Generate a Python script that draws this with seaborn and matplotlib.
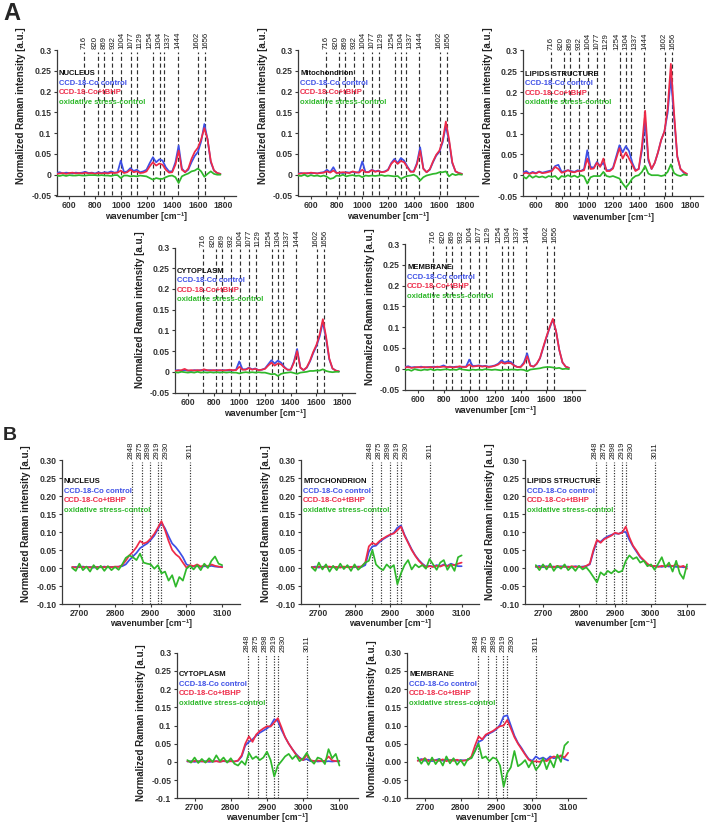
import matplotlib
matplotlib.use("Agg")
import matplotlib.pyplot as plt
import pandas as pd
import seaborn as sns

# ---------------- data ----------------
A_wavenumber = [500, 525, 550, 575, 600, 625, 650, 675, 700, 725,
                750, 775, 800, 825, 850, 875, 900, 925, 950, 975,
                1000, 1025, 1050, 1075, 1100, 1125, 1150, 1175, 1200, 1225,
                1250, 1275, 1300, 1325, 1350, 1375, 1400, 1425, 1450, 1475,
                1500, 1525, 1550, 1575, 1600, 1625, 1650, 1675, 1700, 1725,
                1750, 1775]

A_nucleus_control = [0.004, 0.006, 0.003, 0.005, 0.004, 0.003, 0.005, 0.004, 0.005, 0.007,
                     0.004, 0.005, 0.003, 0.006, 0.004, 0.006, 0.005, 0.008, 0.005, 0.006,
                     0.034, 0.006, 0.008, 0.016, 0.009, 0.012, 0.006, 0.008, 0.012, 0.028,
                     0.042, 0.030, 0.037, 0.034, 0.018, 0.008, 0.008, 0.030, 0.070, 0.015,
                     0.006, 0.012, 0.030, 0.045, 0.055, 0.080, 0.122, 0.085, 0.030, 0.010,
                     0.004, 0.002]
A_nucleus_tbhp = [0.002, 0.003, 0.004, 0.002, 0.004, 0.005, 0.003, 0.004, 0.003, 0.005,
                  0.003, 0.004, 0.002, 0.004, 0.003, 0.004, 0.003, 0.005, 0.004, 0.005,
                  0.010, 0.004, 0.006, 0.012, 0.006, 0.008, 0.004, 0.005, 0.008, 0.020,
                  0.030, 0.022, 0.027, 0.024, 0.012, 0.005, 0.006, 0.024, 0.058, 0.012,
                  0.006, 0.015, 0.038, 0.055, 0.065, 0.085, 0.112, 0.085, 0.033, 0.010,
                  0.004, 0.002]
A_nucleus_diff = [-0.002, -0.003, -0.001, -0.003, -0.001, -0.002, -0.002, -0.001, -0.002, -0.002,
                  -0.001, -0.001, -0.001, -0.002, -0.001, -0.002, -0.002, -0.003, -0.001, -0.001,
                  -0.008, -0.002, -0.002, -0.004, -0.003, -0.004, -0.002, -0.003, -0.004, -0.008,
                  -0.012, -0.008, -0.010, -0.010, -0.006, -0.003, -0.002, -0.006, -0.020, -0.004,
                  0.000, 0.003, 0.008, 0.010, 0.015, 0.008, -0.005, 0.002, 0.008, 0.002,
                  0.000, 0.000]

A_mito_control = [0.003, 0.004, 0.002, 0.004, 0.003, 0.004, 0.003, 0.005, 0.006, 0.012,
                  0.006, 0.018, 0.004, 0.005, 0.004, 0.006, 0.005, 0.007, 0.005, 0.006,
                  0.032, 0.006, 0.007, 0.012, 0.008, 0.010, 0.006, 0.008, 0.012, 0.028,
                  0.038, 0.028, 0.040, 0.034, 0.020, 0.008, 0.008, 0.028, 0.066, 0.015,
                  0.006, 0.012, 0.030, 0.046, 0.055, 0.078, 0.118, 0.080, 0.028, 0.008,
                  0.004, 0.002]
A_mito_tbhp = [0.002, 0.003, 0.004, 0.003, 0.005, 0.004, 0.003, 0.004, 0.005, 0.008,
               0.005, 0.010, 0.004, 0.005, 0.006, 0.005, 0.004, 0.008, 0.006, 0.005,
               0.012, 0.006, 0.006, 0.011, 0.007, 0.009, 0.006, 0.007, 0.011, 0.026,
               0.034, 0.026, 0.033, 0.030, 0.018, 0.007, 0.007, 0.025, 0.058, 0.014,
               0.006, 0.013, 0.032, 0.048, 0.058, 0.082, 0.128, 0.085, 0.030, 0.008,
               0.004, 0.002]
A_mito_diff = [-0.002, -0.003, 0.000, -0.004, -0.001, -0.003, -0.002, -0.004, -0.002, -0.005,
               -0.010, -0.008, -0.002, -0.003, 0.000, -0.004, -0.002, -0.001, -0.003, -0.002,
               -0.006, -0.002, -0.003, -0.002, -0.003, -0.002, -0.001, -0.003, -0.002, -0.003,
               -0.004, -0.003, -0.010, -0.006, -0.003, -0.002, 0.000, -0.004, -0.014, -0.006,
               -0.002, 0.000, 0.002, 0.003, 0.006, 0.006, 0.008, -0.004, 0.002, -0.001,
               0.001, 0.000]

A_lipid_control = [0.006, 0.010, 0.004, 0.008, 0.005, 0.009, 0.006, 0.008, 0.010, 0.012,
                   0.022, 0.025, 0.008, 0.010, 0.012, 0.010, 0.008, 0.012, 0.010, 0.015,
                   0.060, 0.020, 0.018, 0.032, 0.022, 0.030, 0.012, 0.012, 0.018, 0.045,
                   0.072, 0.055, 0.070, 0.058, 0.030, 0.012, 0.015, 0.060, 0.130, 0.035,
                   0.015, 0.030, 0.055, 0.085, 0.105, 0.150, 0.235, 0.140, 0.045, 0.015,
                   0.006, 0.003]
A_lipid_tbhp = [0.004, 0.006, 0.003, 0.006, 0.004, 0.008, 0.005, 0.006, 0.008, 0.010,
                0.020, 0.015, 0.006, 0.008, 0.012, 0.008, 0.007, 0.010, 0.010, 0.012,
                0.040, 0.015, 0.016, 0.030, 0.020, 0.040, 0.010, 0.010, 0.016, 0.040,
                0.065, 0.040, 0.055, 0.040, 0.025, 0.010, 0.015, 0.070, 0.155, 0.040,
                0.015, 0.030, 0.055, 0.085, 0.105, 0.160, 0.268, 0.150, 0.045, 0.015,
                0.008, 0.003]
A_lipid_diff = [-0.003, -0.008, 0.000, -0.006, -0.002, -0.005, -0.003, -0.006, -0.002, -0.004,
                -0.002, -0.010, -0.002, -0.004, 0.000, -0.004, -0.001, -0.005, 0.000, -0.003,
                -0.020, -0.005, -0.002, -0.002, -0.002, 0.008, -0.002, -0.004, -0.002, -0.005,
                -0.008, -0.020, -0.030, -0.020, -0.008, -0.002, 0.000, 0.008, 0.022, 0.004,
                0.000, 0.000, 0.000, -0.002, 0.000, 0.008, 0.026, 0.005, 0.000, -0.002,
                0.002, 0.000]

A_cyto_control = [0.003, 0.004, 0.002, 0.004, 0.003, 0.002, 0.004, 0.003, 0.004, 0.005,
                  0.003, 0.004, 0.003, 0.004, 0.003, 0.004, 0.003, 0.004, 0.003, 0.005,
                  0.025, 0.006, 0.006, 0.010, 0.006, 0.008, 0.004, 0.005, 0.008, 0.018,
                  0.028, 0.020, 0.027, 0.022, 0.012, 0.005, 0.005, 0.025, 0.055, 0.010,
                  0.004, 0.010, 0.025, 0.045, 0.062, 0.085, 0.120, 0.080, 0.030, 0.008,
                  0.003, 0.001]
A_cyto_tbhp = [0.002, 0.003, 0.004, 0.007, 0.003, 0.004, 0.003, 0.004, 0.003, 0.006,
               0.004, 0.003, 0.004, 0.003, 0.004, 0.003, 0.004, 0.005, 0.004, 0.004,
               0.012, 0.005, 0.005, 0.009, 0.005, 0.007, 0.004, 0.005, 0.007, 0.015,
               0.022, 0.015, 0.020, 0.018, 0.010, 0.005, 0.005, 0.022, 0.050, 0.010,
               0.004, 0.011, 0.027, 0.048, 0.065, 0.090, 0.127, 0.085, 0.032, 0.008,
               0.003, 0.001]
A_cyto_diff = [-0.001, -0.002, 0.000, -0.001, -0.002, -0.001, -0.002, 0.000, -0.002, -0.001,
               -0.002, -0.001, -0.002, -0.001, -0.002, -0.001, -0.002, -0.001, -0.002, -0.002,
               -0.004, -0.002, -0.001, -0.002, -0.001, -0.002, -0.001, -0.002, -0.002, -0.004,
               -0.006, -0.005, -0.010, -0.005, -0.003, -0.002, -0.001, -0.003, -0.005, -0.002,
               -0.001, 0.000, 0.002, 0.002, 0.003, 0.003, 0.006, 0.002, 0.000, -0.001,
               0.000, 0.000]

A_memb_control = [0.004, 0.006, 0.003, 0.004, 0.003, 0.005, 0.003, 0.004, 0.004, 0.005,
                  0.004, 0.005, 0.008, 0.004, 0.005, 0.004, 0.005, 0.004, 0.005, 0.005,
                  0.022, 0.007, 0.007, 0.008, 0.006, 0.007, 0.005, 0.006, 0.008, 0.012,
                  0.020, 0.015, 0.018, 0.016, 0.008, 0.004, 0.005, 0.015, 0.037, 0.008,
                  0.005, 0.012, 0.025, 0.050, 0.075, 0.098, 0.118, 0.090, 0.045, 0.015,
                  0.005, 0.002]
A_memb_tbhp = [0.003, 0.004, 0.002, 0.003, 0.004, 0.003, 0.004, 0.003, 0.004, 0.003,
               0.005, 0.004, 0.005, 0.004, 0.004, 0.003, 0.004, 0.006, 0.004, 0.004,
               0.010, 0.005, 0.006, 0.007, 0.005, 0.006, 0.004, 0.005, 0.007, 0.010,
               0.016, 0.012, 0.014, 0.013, 0.007, 0.004, 0.004, 0.012, 0.030, 0.007,
               0.005, 0.012, 0.026, 0.052, 0.077, 0.100, 0.120, 0.090, 0.045, 0.015,
               0.005, 0.002]
A_memb_diff = [-0.004, -0.002, -0.005, -0.001, -0.003, -0.004, -0.002, -0.003, -0.001, -0.004,
               -0.002, -0.003, -0.002, -0.001, -0.003, -0.002, -0.003, 0.000, -0.002, -0.003,
               -0.004, -0.002, -0.003, -0.002, -0.003, -0.001, -0.002, -0.003, -0.002, -0.003,
               -0.004, -0.002, -0.003, -0.002, -0.002, -0.003, -0.002, -0.003, -0.006, -0.002,
               -0.001, 0.000, 0.001, 0.003, 0.004, 0.004, 0.003, 0.001, 0.002, -0.001,
               0.000, -0.001]

B_wavenumber = [2680, 2690, 2700, 2710, 2720, 2730, 2740, 2750, 2760, 2770,
                2780, 2790, 2800, 2810, 2820, 2830, 2840, 2850, 2860, 2870,
                2880, 2890, 2900, 2910, 2920, 2930, 2940, 2950, 2960, 2970,
                2980, 2990, 3000, 3010, 3020, 3030, 3040, 3050, 3060, 3070,
                3080, 3090, 3100]

B_nucleus_control = [0.002, 0.003, 0.002, 0.004, 0.002, 0.003, 0.001, 0.003, 0.002, 0.004,
                     0.002, 0.003, 0.003, 0.004, 0.005, 0.010, 0.022, 0.032, 0.042, 0.055,
                     0.062, 0.068, 0.078, 0.090, 0.108, 0.126, 0.110, 0.088, 0.068, 0.058,
                     0.045, 0.030, 0.010, 0.006, 0.004, 0.006, 0.003, 0.005, 0.004, 0.006,
                     0.004, 0.003, 0.004]
B_nucleus_tbhp = [0.003, 0.001, 0.004, 0.002, 0.003, 0.001, 0.004, 0.002, 0.003, 0.002,
                  0.004, 0.002, 0.004, 0.003, 0.008, 0.020, 0.035, 0.045, 0.058, 0.075,
                  0.068, 0.072, 0.082, 0.095, 0.112, 0.130, 0.105, 0.075, 0.050, 0.038,
                  0.030, 0.015, 0.001, 0.008, 0.005, 0.010, 0.004, 0.008, 0.005, 0.010,
                  0.006, 0.004, 0.002]
B_nucleus_diff = [0.000, -0.008, 0.012, -0.006, 0.004, -0.010, 0.008, -0.004, 0.006, -0.008,
                  0.005, -0.006, 0.003, -0.005, 0.010, 0.028, 0.035, 0.030, 0.022, 0.040,
                  0.015, 0.012, 0.010, -0.002, 0.008, -0.015, -0.010, -0.035, -0.020, -0.052,
                  -0.025, -0.035, -0.002, 0.006, -0.004, 0.008, -0.006, 0.012, 0.000, 0.020,
                  0.032, 0.012, 0.008]

B_mito_control = [0.002, 0.004, 0.001, 0.003, 0.005, 0.002, 0.004, 0.001, 0.003, 0.002,
                  0.004, 0.003, 0.002, 0.004, 0.003, 0.008, 0.045, 0.060, 0.062, 0.072,
                  0.080, 0.086, 0.092, 0.098, 0.112, 0.118, 0.092, 0.072, 0.052, 0.035,
                  0.022, 0.012, 0.004, 0.006, 0.004, 0.008, 0.005, 0.010, 0.006, 0.012,
                  0.008, 0.005, 0.005]
B_mito_tbhp = [0.003, 0.001, 0.004, 0.002, 0.003, 0.004, 0.002, 0.003, 0.001, 0.004,
               0.002, 0.003, 0.004, 0.002, 0.005, 0.015, 0.060, 0.070, 0.065, 0.075,
               0.082, 0.088, 0.093, 0.096, 0.105, 0.115, 0.090, 0.070, 0.050, 0.034,
               0.020, 0.010, 0.002, 0.005, 0.003, 0.006, 0.004, 0.008, 0.005, 0.009,
               0.008, 0.012, 0.015]
B_mito_diff = [0.002, -0.008, 0.015, -0.004, 0.010, -0.010, 0.006, -0.006, 0.012, -0.003,
               0.008, -0.008, 0.010, -0.005, 0.004, 0.015, 0.020, 0.050, 0.010, 0.000,
               -0.006, 0.010, 0.000, 0.008, -0.045, -0.015, 0.008, 0.022, -0.004, 0.010,
               0.002, 0.008, -0.002, 0.025, 0.010, -0.005, 0.015, 0.022, -0.005, 0.010,
               -0.008, 0.030, 0.035]

B_lipid_control = [0.003, 0.006, 0.002, 0.005, 0.003, 0.004, 0.002, 0.005, 0.003, 0.004,
                   0.002, 0.005, 0.003, 0.004, 0.005, 0.010, 0.045, 0.075, 0.073, 0.082,
                   0.088, 0.092, 0.096, 0.095, 0.100, 0.100, 0.078, 0.060, 0.045, 0.030,
                   0.020, 0.010, 0.006, 0.004, 0.005, 0.003, 0.006, 0.004, 0.005, 0.003,
                   0.004, 0.002, 0.003]
B_lipid_tbhp = [0.004, 0.002, 0.005, 0.003, 0.004, 0.002, 0.006, 0.003, 0.004, 0.002,
                0.005, 0.003, 0.004, 0.002, 0.006, 0.012, 0.050, 0.078, 0.070, 0.080,
                0.085, 0.090, 0.098, 0.095, 0.098, 0.115, 0.085, 0.062, 0.048, 0.032,
                0.022, 0.012, 0.005, 0.006, 0.003, 0.006, 0.004, 0.008, 0.005, 0.010,
                0.003, 0.006, -0.002]
B_lipid_diff = [0.008, -0.006, 0.010, -0.004, 0.012, -0.008, 0.006, -0.002, 0.010, -0.006,
                0.004, -0.008, 0.006, -0.004, 0.002, -0.010, -0.025, -0.040, -0.012, -0.020,
                -0.008, -0.015, -0.005, -0.012, -0.008, 0.020, 0.035, 0.025, 0.030, 0.015,
                0.020, 0.005, 0.010, -0.005, 0.012, 0.030, 0.002, 0.015, -0.010, 0.020,
                -0.015, -0.030, 0.010]

B_cyto_control = [0.001, 0.002, 0.000, 0.002, 0.001, 0.002, 0.000, 0.001, 0.002, 0.001,
                  0.002, 0.001, 0.002, 0.001, 0.003, 0.015, 0.045, 0.055, 0.062, 0.072,
                  0.080, 0.086, 0.092, 0.100, 0.117, 0.112, 0.088, 0.068, 0.050, 0.035,
                  0.022, 0.012, 0.005, 0.008, 0.002, 0.003, 0.001, 0.002, 0.001, 0.002,
                  0.001, 0.002, 0.001]
B_cyto_tbhp = [0.002, 0.000, 0.003, 0.001, 0.002, 0.000, 0.003, 0.001, 0.002, 0.000,
               0.003, 0.001, 0.002, 0.001, 0.004, 0.018, 0.050, 0.070, 0.055, 0.075,
               0.085, 0.092, 0.098, 0.097, 0.108, 0.120, 0.095, 0.068, 0.050, 0.035,
               0.020, 0.010, 0.005, 0.020, 0.005, 0.002, 0.004, 0.002, 0.003, 0.015,
               0.004, 0.002, 0.003]
B_cyto_diff = [0.005, -0.002, 0.012, -0.003, 0.008, -0.002, 0.010, 0.000, 0.018, 0.002,
               0.012, -0.002, 0.010, -0.005, -0.010, 0.002, -0.008, 0.025, 0.008, 0.015,
               0.005, 0.012, 0.028, 0.005, -0.040, -0.010, 0.002, 0.015, 0.022, 0.008,
               0.018, 0.002, 0.010, 0.025, 0.005, -0.005, 0.012, 0.008, -0.006, 0.035,
               0.010, 0.022, -0.010]

B_memb_control = [0.004, 0.008, 0.003, 0.006, 0.002, 0.005, 0.008, 0.003, 0.006, 0.004,
                  0.007, 0.003, 0.005, 0.004, 0.006, 0.012, 0.030, 0.055, 0.060, 0.072,
                  0.078, 0.083, 0.090, 0.102, 0.125, 0.128, 0.100, 0.072, 0.052, 0.038,
                  0.022, 0.008, 0.003, 0.015, 0.008, 0.012, 0.006, 0.015, 0.010, 0.012,
                  0.015, 0.008, 0.004]
B_memb_tbhp = [0.003, 0.005, 0.010, 0.002, 0.006, 0.004, 0.003, 0.007, 0.002, 0.005,
               0.003, 0.006, 0.002, 0.004, 0.005, 0.015, 0.045, 0.070, 0.062, 0.075,
               0.080, 0.085, 0.092, 0.098, 0.100, 0.115, 0.092, 0.068, 0.050, 0.035,
               0.020, 0.006, 0.000, 0.002, 0.000, 0.005, 0.002, 0.010, 0.015, 0.012,
               0.018, 0.012, 0.025]
B_memb_diff = [0.012, -0.005, 0.010, -0.008, 0.012, -0.006, 0.008, -0.010, 0.015, -0.004,
               0.010, -0.008, 0.005, -0.010, 0.008, 0.010, 0.030, 0.050, 0.010, 0.015,
               0.002, 0.012, 0.008, -0.010, -0.068, -0.030, -0.015, 0.030, -0.012, -0.005,
               0.005, -0.015, 0.002, -0.022, -0.010, 0.010, -0.020, 0.005, -0.015, 0.020,
               0.000, 0.045, 0.055]

A_peaks = [716, 820, 869, 932, 1004, 1077, 1129, 1254, 1304, 1337, 1444, 1602, 1656]
B_peaks = [2848, 2875, 2898, 2919, 2930, 3011]

series_names = ["CCD-18-Co control", "CCD-18-Co+tBHP", "oxidative stress-control"]
A_titles = ["NUCLEUS", "Mitochondrion", "LIPIDS STRUCTURE", "CYTOPLASM", "MEMBRANE"]
B_titles = ["NUCLEUS", "MTOCHONDRION", "LIPIDS STRUCTURE", "CYTOPLASM", "MEMBRANE"]
A_xticks = [600, 800, 1000, 1200, 1400, 1600, 1800]
B_xticks = [2700, 2800, 2900, 3000, 3100]
A_yticks = [-0.05, 0, 0.05, 0.1, 0.15, 0.2, 0.25, 0.3]
A_yticklabels = ["-0.05", "0", "0.05", "0.1", "0.15", "0.2", "0.25", "0.3"]
B_yticks = [-0.1, -0.05, 0, 0.05, 0.1, 0.15, 0.2, 0.25, 0.3]
B_yticklabels = ["-0.10", "-0.05", "0.00", "0.05", "0.10", "0.15", "0.20", "0.25", "0.30"]
B_yticklabels_short = ["-0.1", "-0.05", "0", "0.05", "0.1", "0.15", "0.2", "0.25", "0.3"]

# ---------------- style ----------------
sns.set_style("ticks")
plt.rcParams["font.family"] = ["Liberation Sans", "DejaVu Sans"]
COLORS = ["#3d4fe6", "#ee2a48", "#2fb82b"]
AXC = "#3a3a3a"

W, H = 709, 825
fig = plt.figure(figsize=(W / 100, H / 100), dpi=100)


def spread(xs, gap):
    pos = list(xs)
    for _ in range(400):
        moved = False
        for i in range(len(pos) - 1):
            d = gap - (pos[i + 1] - pos[i])
            if d > 1e-6:
                pos[i] -= d / 2
                pos[i + 1] += d / 2
                moved = True
        if not moved:
            break
    return pos


def panel(box, kind, title, values, ytl, yfrac):
    l, t, r, b = box
    wpx, hpx = r - l, b - t
    ax = fig.add_axes([l / W, 1 - b / H, wpx / W, hpx / H])
    if kind == "A":
        xs, peaks, xlim, ylim, xt, yt = A_wavenumber, A_peaks, (500, 1900), (-0.05, 0.3), A_xticks, A_yticks
        ls, legy = (0, (3.5, 2.2)), [0.243, 0.220, 0.197, 0.174]
    else:
        xs, peaks, xlim, ylim, xt, yt = B_wavenumber, B_peaks, (2650, 3150), (-0.1, 0.3), B_xticks, B_yticks
        ls, legy = (0, (1.0, 1.3)), [0.240, 0.213, 0.187, 0.160]
    rows = []
    for name, vals in zip(series_names, values):
        for x, y in zip(xs, vals):
            rows.append((x, y, name))
    df = pd.DataFrame(rows, columns=["wavenumber", "intensity", "series"])
    sns.lineplot(data=df, x="wavenumber", y="intensity", hue="series",
                 hue_order=series_names, palette=COLORS, estimator=None,
                 sort=False, lw=1.25, legend=False, ax=ax, zorder=3)
    ax.set_xlim(*xlim)
    ax.set_ylim(*ylim)
    ymax = ylim[1] - 0.012 * (ylim[1] - ylim[0])
    ax.vlines(peaks, ylim[0], ymax, colors="#303030", linestyles=ls, lw=0.85, zorder=2)
    pxu = wpx / (xlim[1] - xlim[0])
    lab = spread(peaks, 8.9 / pxu)
    for p, xp in zip(peaks, lab):
        ax.text(xp, ylim[1] + 0.002, str(p), rotation=90, ha="center", va="bottom",
                fontsize=5.6, color="#1a1a1a", clip_on=False)
    ax.set_xticks(xt)
    ax.set_yticks(yt)
    ax.set_yticklabels(ytl)
    ax.tick_params(axis="both", direction="out", length=2.2, width=0.8, pad=1.5,
                   labelsize=6.2, colors=AXC, labelcolor="#333333")
    for lbl in ax.get_xticklabels() + ax.get_yticklabels():
        lbl.set_fontweight("bold")
    for s in ["top", "right"]:
        ax.spines[s].set_visible(False)
    for s in ["left", "bottom"]:
        ax.spines[s].set_color(AXC)
        ax.spines[s].set_linewidth(0.9)
    ax.set_xlabel("wavenumber [cm⁻¹]", fontsize=6.3, fontweight="bold", color="#222222")
    ax.set_ylabel("Normalized Raman intensity [a.u.]", fontsize=7, fontweight="bold", color="#222222")
    ax.xaxis.set_label_coords(0.5, -(16.5 if kind == "A" else 14.5) / hpx)
    ax.yaxis.set_label_coords(-30 / wpx, yfrac)
    tr = ax.get_yaxis_transform()
    ax.text(0.012, legy[0], title, transform=tr, fontsize=5.5, fontweight="bold",
            color="#111111", va="center", ha="left", zorder=4)
    for name, c, yy in zip(series_names, COLORS, legy[1:]):
        ax.text(0.012, yy, name, transform=tr, fontsize=5.5, fontweight="bold",
                color=c, va="center", ha="left", zorder=4)
    return ax


A_values = [(A_nucleus_control, A_nucleus_tbhp, A_nucleus_diff),
            (A_mito_control, A_mito_tbhp, A_mito_diff),
            (A_lipid_control, A_lipid_tbhp, A_lipid_diff),
            (A_cyto_control, A_cyto_tbhp, A_cyto_diff),
            (A_memb_control, A_memb_tbhp, A_memb_diff)]
B_values = [(B_nucleus_control, B_nucleus_tbhp, B_nucleus_diff),
            (B_mito_control, B_mito_tbhp, B_mito_diff),
            (B_lipid_control, B_lipid_tbhp, B_lipid_diff),
            (B_cyto_control, B_cyto_tbhp, B_cyto_diff),
            (B_memb_control, B_memb_tbhp, B_memb_diff)]

A_boxes = [(56.5, 50, 236.5, 195.5), (298, 50, 478, 195.5), (523, 50.5, 703, 196),
           (175, 247.5, 355, 392.5), (405, 244, 585, 389.5)]
A_yfrac = [0.62, 0.62, 0.62, 0.57, 0.57]
B_boxes = [(61.5, 460, 240, 604), (301, 460, 479.5, 604), (525, 460, 705, 604),
           (176.5, 652.7, 357.5, 798.3), (407, 652.7, 586, 798.3)]
B_yfrac = [0.56, 0.56, 0.57, 0.52, 0.55]

for box, title, vals, yf in zip(A_boxes, A_titles, A_values, A_yfrac):
    panel(box, "A", title, vals, A_yticklabels, yf)
for i, (box, title, vals, yf) in enumerate(zip(B_boxes, B_titles, B_values, B_yfrac)):
    panel(box, "B", title, vals, B_yticklabels_short if i == 3 else B_yticklabels, yf)

fig.text(3 / W, 1 - 2 / H, "A", fontsize=17, fontweight="bold", va="top", ha="left")
fig.text(3 / W, 1 - 427 / H, "B", fontsize=14, fontweight="bold", va="top", ha="left")

fig.savefig("out.png", dpi=100, facecolor="white")
